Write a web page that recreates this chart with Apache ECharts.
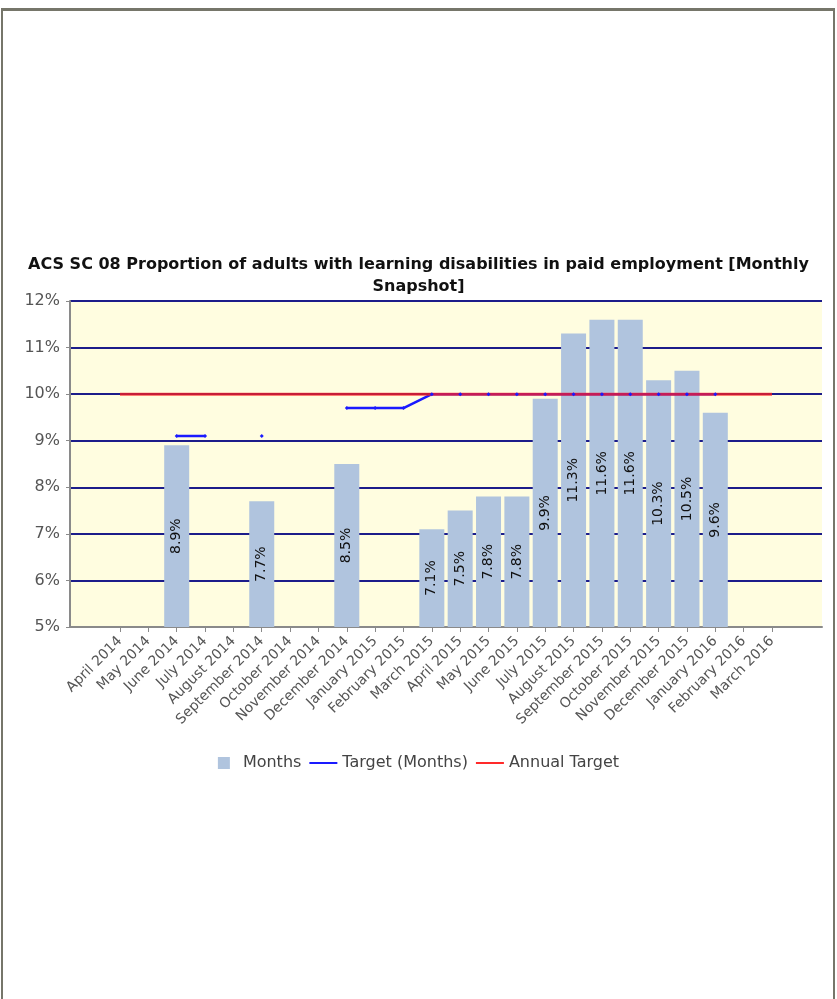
<!DOCTYPE html>
<html>
<head>
<meta charset="utf-8">
<script src="https://cdn.jsdelivr.net/npm/echarts@6/dist/echarts.min.js"></script>
<style>
  body { margin: 0; background: #fff; }
  #frame { position: absolute; left: 1px; top: 8px; width: 830px; height: 1000px;
           border-top: 3px solid #76766a; border-left: 2px solid #76766a; border-right: 2px solid #76766a; }
  #chart { position: absolute; left: 0; top: 0; width: 837px; height: 999px; }
</style>
</head>
<body>
<div id="frame"></div>
<div id="chart"></div>
<script>
// categories (monthly snapshots)
const months = [
  'April 2014', 'May 2014', 'June 2014', 'July 2014', 'August 2014', 'September 2014',
  'October 2014', 'November 2014', 'December 2014', 'January 2015', 'February 2015', 'March 2015',
  'April 2015', 'May 2015', 'June 2015', 'July 2015', 'August 2015', 'September 2015',
  'October 2015', 'November 2015', 'December 2015', 'January 2016', 'February 2016', 'March 2016'
];
// actual values (%)
const actual = [
  null, null, 8.9, null, null, 7.7,
  null, null, 8.5, null, null, 7.1,
  7.5, 7.8, 7.8, 9.9, 11.3, 11.6,
  11.6, 10.3, 10.5, 9.6, null, null
];
// target (months) (%)
const targetMonths = [
  null, null, 9.1, 9.1, null, 9.1,
  null, null, 9.7, 9.7, 9.7, 10,
  10, 10, 10, 10, 10, 10,
  10, 10, 10, 10, null, null
];
// annual target (%)
const annualTarget = [
  10, 10, 10, 10, 10, 10, 10, 10, 10, 10, 10, 10,
  10, 10, 10, 10, 10, 10, 10, 10, 10, 10, 10, 10
];

const font = 'DejaVu Sans';
const chart = echarts.init(document.getElementById('chart'));

const option = {
  backgroundColor: 'transparent',
  animation: false,
  textStyle: { fontFamily: font },
  title: {
    text: 'ACS SC 08 Proportion of adults with learning disabilities in paid employment [Monthly\nSnapshot]',
    left: 'center',
    top: 249,
    textStyle: { fontFamily: font, fontSize: 16, fontWeight: 'bold', color: '#111', lineHeight: 22 }
  },
  legend: {
    left: 'center',
    top: 750,
    itemWidth: 28,
    itemHeight: 12,
    itemGap: 8,
    textStyle: { fontFamily: font, fontSize: 16, color: '#444' },
    data: [
      { name: 'Months', icon: 'path://M0,0H10V10H0Z' },
      { name: 'Target (Months)', icon: 'path://M0,0H28V2H0Z' },
      { name: 'Annual Target', icon: 'path://M0,0H28V2H0Z' }
    ]
  },
  // grid 0 = full plot area (background, y axis), grid 1 = inset category area
  grid: [
    { left: 70, right: 15, top: 301, height: 326, show: true, backgroundColor: '#fffde0', borderWidth: 0 },
    { left: 120, right: 65, top: 301, height: 326 }
  ],
  xAxis: [
    {
      gridIndex: 0, type: 'value', min: 0, max: 1,
      axisLine: { show: true, lineStyle: { color: '#8a8a8a', width: 2 } },
      axisTick: { show: false }, axisLabel: { show: false }, splitLine: { show: false }
    },
    {
      gridIndex: 1, type: 'category', data: months, boundaryGap: false,
      axisLine: { show: false },
      axisTick: { show: true, length: 5, lineStyle: { color: '#8a8a8a' } },
      axisLabel: { interval: 0, rotate: 45, margin: 12, fontFamily: font, fontSize: 14, color: '#555' },
      splitLine: { show: false }
    }
  ],
  yAxis: [
    {
      gridIndex: 0, type: 'value', min: 5, max: 12, interval: 1,
      axisLine: { show: true, lineStyle: { color: '#8a8a8a', width: 2 } },
      axisTick: { show: true, length: 4, lineStyle: { color: '#8a8a8a' } },
      axisLabel: { margin: 10, formatter: '{value}%', fontFamily: font, fontSize: 16, color: '#555' },
      splitLine: { show: true, lineStyle: { color: '#1c1c8a', width: 2 } }
    },
    { gridIndex: 1, type: 'value', min: 5, max: 12, show: false }
  ],
  series: [
    {
      name: 'Months', type: 'bar', xAxisIndex: 1, yAxisIndex: 1,
      data: actual, barWidth: 25,
      itemStyle: { color: '#b0c4de' },
      label: {
        show: true, position: 'inside', rotate: 90,
        fontFamily: font, fontSize: 14, color: '#111',
        formatter: p => p.value.toFixed(1) + '%'
      }
    },
    {
      name: 'Target (Months)', type: 'line', xAxisIndex: 1, yAxisIndex: 1,
      data: targetMonths, color: '#1a1aff',
      symbol: 'diamond', symbolSize: 4, showSymbol: true,
      lineStyle: { width: 2.5, color: '#1a1aff' },
      itemStyle: { color: '#1a1aff' }
    },
    {
      name: 'Annual Target', type: 'line', xAxisIndex: 1, yAxisIndex: 1,
      data: annualTarget, color: '#ff2a2a',
      symbol: 'none',
      lineStyle: { width: 3, color: 'rgba(255,30,30,0.75)' },
      itemStyle: { color: '#ff2a2a' }
    }
  ]
};

chart.setOption(option);
</script>
</body>
</html>
